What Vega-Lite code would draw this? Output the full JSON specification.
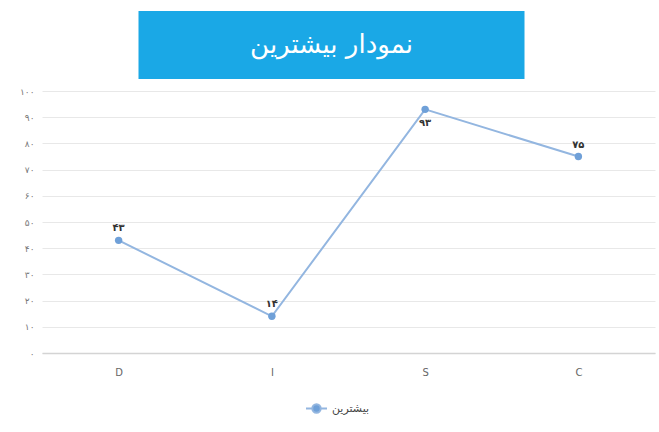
{
  "$schema": "https://vega.github.io/schema/vega-lite/v6.json",
  "background": "white",
  "padding": {"left": 19, "top": 11, "right": 2, "bottom": 2},
  "spacing": 8,
  "center": true,
  "config": {
    "font": "DejaVu Sans",
    "view": {"stroke": null},
    "legend": {"layout": {"bottom": {"anchor": "middle"}}}
  },
  "data": {
    "values": [
      {"cat": "D", "value": 43, "label": "۴۳", "series": "بیشترین"},
      {"cat": "I", "value": 14, "label": "۱۴", "series": "بیشترین"},
      {"cat": "S", "value": 93, "label": "۹۳", "series": "بیشترین"},
      {"cat": "C", "value": 75, "label": "۷۵", "series": "بیشترین"}
    ]
  },
  "vconcat": [
    {
      "width": 386,
      "height": 68,
      "view": {"fill": "#1AA8E6", "stroke": null},
      "data": {"values": [{"title": "نمودار بیشترین"}]},
      "mark": {"type": "text", "color": "white", "fontSize": 26, "baseline": "middle", "align": "center"},
      "encoding": {
        "text": {"field": "title"},
        "y": {
          "datum": 0,
          "type": "quantitative",
          "scale": {"domain": [-1, 1]},
          "axis": {
            "orient": "right",
            "labels": false,
            "ticks": false,
            "domain": false,
            "grid": false,
            "title": "x",
            "titleOpacity": 0,
            "titleFontSize": 10,
            "titlePadding": 24
          }
        }
      }
    },
    {
      "width": 613,
      "height": 262,
      "encoding": {
        "x": {
          "field": "cat",
          "type": "nominal",
          "sort": null,
          "scale": {"type": "point", "padding": 0.5},
          "axis": {
            "title": null,
            "labelAngle": 0,
            "ticks": false,
            "domain": true,
            "domainColor": "#d4d4d4",
            "domainWidth": 1.5,
            "labelColor": "#666",
            "labelFontSize": 10,
            "labelPadding": 14,
            "grid": false
          }
        },
        "y": {
          "field": "value",
          "type": "quantitative",
          "scale": {"domain": [0, 100]},
          "axis": {
            "title": null,
            "values": [0, 10, 20, 30, 40, 50, 60, 70, 80, 90, 100],
            "domain": false,
            "ticks": false,
            "gridColor": "#e8e8e8",
            "labelColor": "#777",
            "labelFontSize": 9,
            "labelPadding": 8,
            "labelExpr": "replace(replace(replace(replace(replace(replace(replace(replace(replace(replace(datum.label, /0/g, '۰'), /1/g, '۱'), /2/g, '۲'), /3/g, '۳'), /4/g, '۴'), /5/g, '۵'), /6/g, '۶'), /7/g, '۷'), /8/g, '۸'), /9/g, '۹')"
          }
        }
      },
      "layer": [
        {
          "mark": {"type": "line", "strokeWidth": 2},
          "encoding": {
            "color": {
              "field": "series",
              "type": "nominal",
              "scale": {"range": ["#93b6e0"]},
              "legend": {
                "title": null,
                "orient": "bottom",
                "offset": 20,
                "symbolType": "M-1,0H-0.4M0.4,0H1M-0.4,0A0.4,0.4,0,1,0,0.4,0A0.4,0.4,0,1,0,-0.4,0Z",
                "symbolSize": 441,
                "symbolStrokeWidth": 2,
                "symbolStrokeColor": "#93b6e0",
                "symbolFillColor": "#6fa0d8",
                "labelFontSize": 11,
                "labelColor": "#444"
              }
            }
          }
        },
        {
          "mark": {"type": "point", "filled": true, "size": 55, "color": "#6fa0d8", "opacity": 1},
          "encoding": {}
        },
        {
          "transform": [{"filter": "datum.cat != 'S'"}],
          "mark": {"type": "text", "dy": -12, "fontSize": 10, "fontWeight": "bold", "color": "#333"},
          "encoding": {"text": {"field": "label"}}
        },
        {
          "transform": [{"filter": "datum.cat == 'S'"}],
          "mark": {"type": "text", "dy": 14, "fontSize": 10, "fontWeight": "bold", "color": "#333"},
          "encoding": {"text": {"field": "label"}}
        }
      ]
    }
  ]
}
